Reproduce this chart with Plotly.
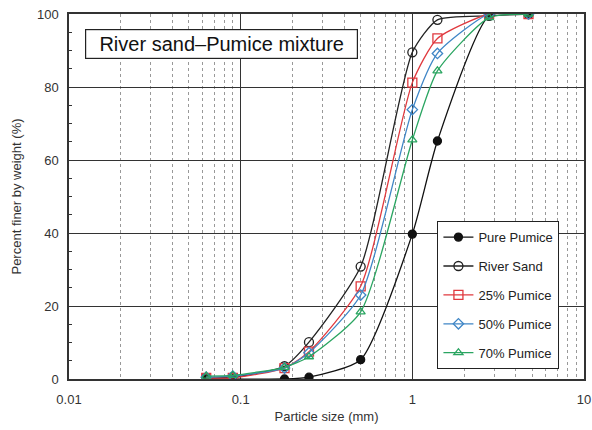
import plotly.graph_objects as go

sizes = [0.063, 0.09, 0.18, 0.25, 0.5, 1.0, 1.4, 2.8, 4.75]
pure_pumice = [0.0, 0.0, 0.0, 0.5, 5.3, 39.7, 65.2, 99.5, 100.0]
river_sand = [0.3, 0.5, 3.5, 10.1, 30.8, 89.5, 98.4, 99.5, 100.0]
pumice_25 = [0.3, 0.3, 3.0, 7.5, 25.4, 81.2, 93.3, 100.0, 100.0]
pumice_50 = [0.5, 0.8, 3.0, 7.2, 23.0, 73.8, 89.2, 100.0, 100.0]
pumice_70 = [0.8, 1.0, 3.2, 6.1, 18.4, 65.5, 84.4, 99.0, 100.0]

series = [
    ("Pure Pumice", pure_pumice, "#111111", "circle", "#111111", 8),
    ("River Sand", river_sand, "#222222", "circle-open", "#222222", 9),
    ("25% Pumice", pumice_25, "#e0393e", "square-open", "#e0393e", 9),
    ("50% Pumice", pumice_50, "#3f86c6", "diamond-open", "#3f86c6", 8),
    ("70% Pumice", pumice_70, "#2aa561", "triangle-up-open", "#2aa561", 8),
]

x_tickvals = [0.01, 0.1, 1, 10]
x_ticktext = ["0.01", "0.1", "1", "10"]

fig = go.Figure()
for i, (name, vals, color, sym, mcol, msize) in enumerate(series):
    fig.add_trace(go.Scatter(
        x=sizes, y=vals, name=name, mode="lines+markers",
        line=dict(color=color, width=1.3, shape="spline", smoothing=0.6),
        marker=dict(symbol=sym, size=msize, color=mcol,
                    line=dict(color=mcol, width=1.3)),
        legendgroup=str(i),
    ))

font_family = "Arial, Liberation Sans, sans-serif"
fig.update_layout(
    width=592, height=430,
    margin=dict(l=69, r=8, t=14, b=51),
    paper_bgcolor="white", plot_bgcolor="white",
    font=dict(family=font_family, size=13, color="#333333"),
    showlegend=True,
    legend=dict(
        x=0.715, y=0.433, xanchor="left", yanchor="top",
        bgcolor="white", bordercolor="#222222", borderwidth=1.2,
        font=dict(size=13, color="#222222"),
        tracegroupgap=9, itemwidth=30,
    ),
    xaxis=dict(
        type="log", range=[-2, 1], automargin=False,
        tickvals=x_tickvals, ticktext=x_ticktext,
        showgrid=True, gridcolor="#333333", gridwidth=1.2,
        showline=True, linecolor="#333333", linewidth=1.5, mirror=True,
        ticks="", zeroline=False, ticklabelstandoff=8,
        minor=dict(dtick="D1", showgrid=True, gridcolor="#999999",
                   griddash="dot", gridwidth=1, ticks=""),
        title=dict(text="Particle size (mm)", font=dict(size=13, color="#333333"), standoff=6),
        tickfont=dict(size=13, color="#333333"),
    ),
    yaxis=dict(
        range=[0, 100], dtick=20, automargin=False,
        showgrid=True, gridcolor="#333333", gridwidth=1.2,
        showline=True, linecolor="#333333", linewidth=1.5, mirror=True,
        ticks="inside", ticklen=3, tickcolor="#333333", zeroline=False,
        ticklabelstandoff=6,
        minor=dict(dtick=5, ticks="inside", ticklen=3, tickcolor="#333333", showgrid=False),
        title=dict(text="Percent finer by weight (%)", font=dict(size=13, color="#333333"), standoff=12),
        tickfont=dict(size=13, color="#333333"),
    ),
)

fig.add_annotation(
    xref="paper", yref="paper", x=0.031, y=0.959,
    xanchor="left", yanchor="top", showarrow=False,
    text="River sand\u2013Pumice mixture",
    font=dict(size=20, color="#111111", family=font_family),
    width=265, align="center",
    bgcolor="white", bordercolor="#222222", borderwidth=1.2, borderpad=3,
)

fig.write_html("out.html")
